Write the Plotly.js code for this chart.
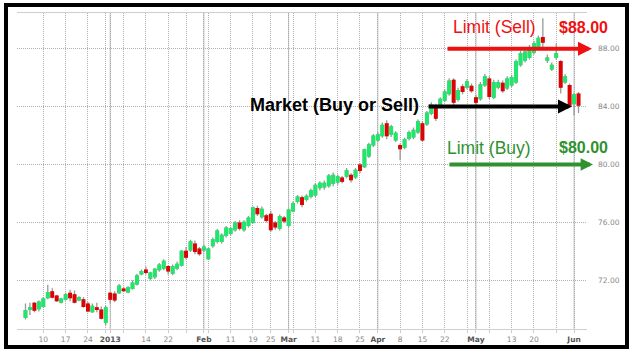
<!DOCTYPE html>
<html><head><meta charset="utf-8">
<script src="https://cdn.plot.ly/plotly-3.0.1.min.js"></script>
<style>html,body{margin:0;padding:0;background:#fff}#chart{width:633px;height:356px}</style>
</head><body><div id="chart"></div>
<script>
// ---- data ----
const firstDay = '2012-12-04', lastDay = '2013-06-04';
const holidays = ['2012-12-25','2013-01-01','2013-01-21','2013-02-18','2013-03-29','2013-05-27'];

const openP = [
69.45,70.00,70.40,70.05,70.20,70.80,71.20,70.90,70.50,70.70,
71.10,71.00,70.65,70.65,70.35,69.85,70.10,69.95,69.10,71.10,
71.05,71.15,71.40,71.20,71.45,71.75,72.45,72.70,72.15,72.25,
72.75,72.85,72.95,72.50,72.85,73.05,74.00,74.10,74.50,74.15,
74.10,73.50,74.40,74.70,74.70,75.10,75.25,75.50,75.95,75.50,
75.80,76.00,76.95,76.40,76.45,76.55,75.95,75.60,76.30,75.80,
76.80,77.45,77.70,77.60,77.80,77.90,78.40,78.45,78.55,78.70,
78.80,79.05,79.20,79.25,79.15,79.95,79.85,80.60,81.35,81.70,
82.00,82.80,82.10,81.70,81.30,81.20,81.80,81.90,82.25,82.80,
82.80,83.55,83.95,84.10,84.45,84.90,85.80,84.50,85.35,85.35,
85.40,84.60,84.55,85.50,85.90,84.65,85.35,85.60,85.30,85.50,
85.70,86.90,87.20,87.40,87.75,88.10,88.75,87.20,86.60,87.40,
87.10,85.70,85.45,84.20,84.85];
const closeP = [
69.90,70.10,69.95,70.50,70.70,71.15,70.85,70.60,70.70,71.00,
70.80,70.50,70.80,70.20,69.90,70.20,70.00,69.40,70.10,70.70,
70.65,71.60,71.30,71.50,71.80,72.30,72.60,72.55,72.50,72.75,
73.05,73.30,72.65,72.95,73.10,74.00,73.60,74.65,74.00,73.85,
74.30,74.15,74.80,75.40,75.10,75.60,75.55,75.95,75.60,76.00,
76.30,77.00,76.60,76.90,76.15,75.50,75.70,76.40,76.10,76.85,
77.30,77.75,77.25,77.80,78.20,78.55,78.70,78.70,79.20,79.25,
79.15,78.85,79.55,78.95,79.60,79.60,81.00,81.35,81.95,82.05,
82.70,82.00,82.60,82.15,81.10,81.70,82.20,82.35,82.95,81.70,
83.55,84.10,83.20,84.50,85.00,85.75,84.30,85.10,85.05,85.70,
85.10,84.30,85.50,86.05,84.70,85.65,85.65,85.10,85.90,86.00,
87.10,87.65,87.75,88.00,88.35,88.70,88.45,87.35,86.85,87.65,
85.35,86.05,84.10,84.80,84.10];
const highP = [
70.40,70.45,70.50,70.60,70.85,71.70,71.45,71.00,70.80,71.15,
71.35,71.30,70.90,70.85,70.50,70.40,70.45,70.20,70.25,71.20,
71.25,71.75,71.55,71.60,72.00,72.45,72.75,72.95,72.60,72.85,
73.20,73.45,73.05,73.10,73.30,74.10,74.30,74.80,74.75,74.30,
74.45,74.25,74.95,75.55,75.25,75.75,75.70,76.10,76.15,76.15,
76.45,77.10,77.15,77.10,76.60,76.80,76.10,76.55,76.45,76.95,
77.45,77.90,77.85,77.95,78.35,78.70,78.85,78.90,79.35,79.45,
79.30,79.20,79.75,79.40,79.75,80.10,81.10,81.50,82.10,82.25,
82.90,83.05,82.75,82.30,81.45,81.85,82.35,82.55,83.10,83.00,
83.70,84.30,84.20,84.65,85.20,85.95,85.95,85.30,85.55,85.90,
85.60,84.80,85.70,86.25,86.10,85.85,85.85,85.80,86.10,86.20,
87.25,87.85,88.00,88.25,88.55,88.90,90.10,87.60,87.05,88.35,
87.20,86.25,85.60,84.95,85.00];
const lowP = [
69.30,69.60,69.80,69.85,70.10,70.70,70.75,70.50,70.40,70.60,
70.55,70.40,70.55,70.10,69.80,69.75,69.80,69.30,68.90,70.40,
70.50,71.05,71.20,71.10,71.35,71.65,72.35,72.40,72.00,72.10,
72.60,72.70,72.40,72.35,72.70,72.95,73.45,73.95,73.80,73.70,
73.95,73.40,74.25,74.55,74.55,74.95,75.10,75.35,75.45,75.35,
75.65,75.90,76.45,76.25,76.00,75.35,75.50,75.45,75.95,75.65,
76.70,77.30,77.05,77.45,77.65,77.75,78.20,78.25,78.40,78.50,
78.60,78.70,79.05,78.75,79.00,79.40,79.75,80.45,81.20,81.55,
81.85,81.75,81.90,81.55,80.30,81.05,81.65,81.75,82.10,81.55,
82.65,83.40,83.00,83.95,84.30,84.75,84.10,84.35,84.85,85.20,
84.95,84.10,84.40,85.35,84.50,84.50,85.20,84.95,85.15,85.35,
85.55,86.75,87.05,87.25,87.60,87.95,88.10,87.00,86.45,87.25,
84.90,85.55,83.95,83.40,83.55];

const tickDates = ['2012-12-10','2012-12-17','2012-12-24','2012-12-31','2013-01-02','2013-01-07',
  '2013-01-14','2013-01-22','2013-01-28','2013-02-01','2013-02-04','2013-02-11','2013-02-19',
  '2013-02-25','2013-03-01','2013-03-04','2013-03-11','2013-03-18','2013-03-25','2013-04-01',
  '2013-04-08','2013-04-15','2013-04-22','2013-04-29','2013-05-01','2013-05-06','2013-05-13',
  '2013-05-20','2013-05-28','2013-06-03'];
const tickLabels = ['10','17','24','','2013','','14','22','','Feb','','11','19','25','Mar','',
  '11','18','25','Apr','8','15','22','','May','','13','20','','Jun'];
const monthLabels = ['2013','Feb','Mar','Apr','May','Jun'];
const priceTicks = [72, 76, 80, 84, 88];

const levelSell = 88, levelMarket = 84, levelBuy = 80;
const textSell = 'Limit (Sell)', priceSell = '$88.00';
const textBuy = 'Limit (Buy)', priceBuy = '$80.00';
const textMarket = 'Market (Buy or Sell)';

// ---- build ----
function ymd(d){ return d.toISOString().slice(0,10); }
const dates = [];
for (let d = new Date(firstDay + 'T00:00:00Z'); ymd(d) <= lastDay; d.setUTCDate(d.getUTCDate()+1)) {
  const wd = d.getUTCDay(), s = ymd(d);
  if (wd === 0 || wd === 6 || holidays.includes(s)) continue;
  dates.push(s);
}
const n = Math.min(dates.length, openP.length);
const xs = dates.slice(0, n);
const bodyHigh = openP.map((o,i)=>Math.max(o, closeP[i]));
const bodyLow = openP.map((o,i)=>Math.min(o, closeP[i]));

const GREEN = '#1de86a', RED = '#e00000', WICK = '#999999';

const wickTrace = {
  type:'candlestick', x: xs, open: openP, high: highP, low: lowP, close: closeP,
  increasing:{line:{color:WICK, width:1.3}, fillcolor:WICK},
  decreasing:{line:{color:WICK, width:1.3}, fillcolor:WICK},
  hoverinfo:'skip', showlegend:false
};
const bodyTrace = {
  type:'candlestick', x: xs, open: openP, high: bodyHigh, low: bodyLow, close: closeP,
  increasing:{line:{color:GREEN, width:1.3}, fillcolor:GREEN},
  decreasing:{line:{color:RED, width:1.3}, fillcolor:RED},
  hoverinfo:'skip', showlegend:false
};

const W = 633, H = 356, L = 17, R = 46, T = 13, B = 27;
const pw = W - L - R, ph = H - T - B;
const pxX = x => (x - L) / pw;
const pxY = y => (H - B - y) / ph;

const ticktext = tickLabels.map(t => monthLabels.includes(t) ? '<span style="color:#555"><b>' + t + '</b></span>' : t);

const shapes = [];
tickDates.forEach((d,i)=>{
  if (monthLabels.includes(tickLabels[i])) {
    shapes.push({type:'line', xref:'x', yref:'paper', x0:d, x1:d, y0:0, y1:1, layer:'below',
      line:{color:'#bcbcbc', width:1}});
  }
});
shapes.push({type:'rect', xref:'paper', yref:'paper', x0:pxX(6), x1:pxX(627), y0:pxY(347), y1:pxY(5),
  line:{color:'#000', width:4}, layer:'above'});

const labelFont = {family:'Liberation Sans, Arial, sans-serif'};
const annotations = [
  {xref:'paper', yref:'paper', x:pxX(494), y:pxY(27), text:textSell, showarrow:false,
   font:Object.assign({size:17.5, color:'#ee1111'}, labelFont), xanchor:'center', yanchor:'middle'},
  {xref:'paper', yref:'paper', x:pxX(583), y:pxY(27), text:'<b>'+priceSell+'</b>', showarrow:false,
   font:Object.assign({size:16, color:'#ee1111'}, labelFont), xanchor:'center', yanchor:'middle'},
  {xref:'paper', yref:'paper', x:pxX(489), y:pxY(148), text:textBuy, showarrow:false,
   font:Object.assign({size:17.5, color:'#2f922f'}, labelFont), xanchor:'center', yanchor:'middle'},
  {xref:'paper', yref:'paper', x:pxX(583), y:pxY(148), text:'<b>'+priceBuy+'</b>', showarrow:false,
   font:Object.assign({size:16, color:'#2f922f'}, labelFont), xanchor:'center', yanchor:'middle'},
  {xref:'paper', yref:'paper', x:pxX(334), y:pxY(105), text:'<b>'+textMarket+'</b>', showarrow:false,
   font:Object.assign({size:18, color:'#000'}, labelFont), xanchor:'center', yanchor:'middle'},
  // arrows
  {xref:'paper', yref:'y', x:pxX(592), y:levelSell, text:'', showarrow:true, axref:'pixel', ayref:'pixel',
   ax:-146, ay:0, arrowhead:2, arrowsize:0.7, arrowwidth:4, arrowcolor:'#ee1111'},
  {xref:'paper', yref:'y', x:pxX(572), y:levelMarket, text:'', showarrow:true, axref:'pixel', ayref:'pixel',
   ax:-145, ay:0, arrowhead:2, arrowsize:0.7, arrowwidth:4, arrowcolor:'#000'},
  {xref:'paper', yref:'y', x:pxX(593), y:levelBuy, text:'', showarrow:true, axref:'pixel', ayref:'pixel',
   ax:-145, ay:0, arrowhead:2, arrowsize:0.62, arrowwidth:4, arrowcolor:'#2f922f'}
];

const tickFont = {family:'DejaVu Sans, Verdana, sans-serif', size:7.5, color:'#888'};
const layout = {
  width:W, height:H, margin:{l:L, r:R, t:T, b:B, pad:0},
  paper_bgcolor:'#fff', plot_bgcolor:'#fff', showlegend:false, dragmode:false,
  boxgap:0.2,
  xaxis:{type:'category', range:[-1.9, 125.9], tickmode:'array', tickvals:tickDates, ticktext:ticktext,
    tickangle:0, tickfont:tickFont, showgrid:true, gridcolor:'#b0b0b0', griddash:'1px,1px', gridwidth:1,
    ticks:'outside', ticklen:3, tickcolor:'#cccccc', tickwidth:1,
    showline:true, mirror:true, linecolor:'#cfcfcf', linewidth:1, zeroline:false,
    rangeslider:{visible:false}, fixedrange:true},
  yaxis:{side:'right', range:[68.64, 90.46], tickmode:'array', tickvals:priceTicks, tickformat:'.2f',
    tickfont:tickFont, showgrid:true, gridcolor:'#b0b0b0', griddash:'1px,1px', gridwidth:1,
    ticks:'', ticklabelstandoff:10, showline:false, zeroline:false, fixedrange:true},
  shapes:shapes, annotations:annotations
};
Plotly.newPlot('chart', [wickTrace, bodyTrace], layout, {staticPlot:true, displayModeBar:false});
</script></body></html>
